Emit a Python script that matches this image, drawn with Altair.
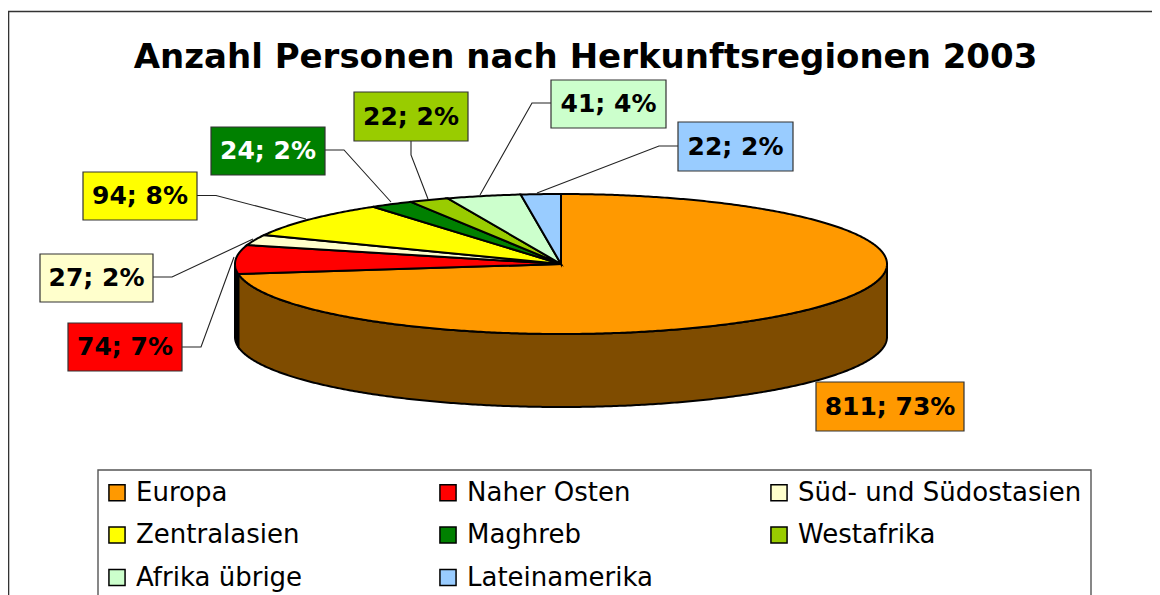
import math
import altair as alt

# ---------- data ----------
categories = ["Europa", "Naher Osten", "Süd- und Südostasien", "Zentralasien",
              "Maghreb", "Westafrika", "Afrika übrige", "Lateinamerika"]
values = [811, 74, 27, 94, 24, 22, 41, 22]
percents = [73, 7, 2, 8, 2, 2, 4, 2]
colors = ["#FF9900", "#FF0000", "#FFFFCC", "#FFFF00",
          "#008000", "#99CC00", "#CCFFCC", "#99CCFF"]
text_colors = ["black", "black", "black", "black", "white", "black", "black", "black"]
title = "Anzahl Personen nach Herkunftsregionen 2003"

# ---------- layout (page pixels, the chart starts 8px in) ----------
OFF = 8
CX, CY, RX, RY, DEPTH = 561, 264, 326, 70, 73
boxes = {  # x0, x1, y0, y1
    "Europa": (816, 964, 382, 431),
    "Naher Osten": (68, 182, 323, 371),
    "Süd- und Südostasien": (40, 153, 254, 302),
    "Zentralasien": (83, 197, 172, 220),
    "Maghreb": (211, 325, 127, 175),
    "Westafrika": (354, 468, 92, 141),
    "Afrika übrige": (551, 666, 80, 128),
    "Lateinamerika": (678, 793, 122, 171),
}
leaders = {
    "Naher Osten": [(182, 347), (201, 347), (234, 257)],
    "Süd- und Südostasien": [(153, 277), (172, 277), (253, 239)],
    "Zentralasien": [(197, 195.5), (216, 195.5), (306, 219)],
    "Maghreb": [(325, 150), (344, 150), (391, 202)],
    "Westafrika": [(411, 141), (411, 155), (428, 199)],
    "Afrika übrige": [(551, 103), (532, 103), (480, 195)],
    "Lateinamerika": [(678, 146), (659, 146), (537, 193)],
}


def pt(deg, dy=0.0):
    a = math.radians(deg)
    return [CX + RX * math.sin(a) - OFF, CY - RY * math.cos(a) + dy - OFF]


def arc(a0, a1, dy=0.0):
    n = max(2, int(abs(a1 - a0) * 2))
    return [pt(a0 + (a1 - a0) * i / n, dy) for i in range(n + 1)]


total = sum(values)
top_features, start = [], 0.0
edges = {}
for cat, v in zip(categories, values):
    end = start + 360.0 * v / total
    edges[cat] = (start, end)
    ring = [[CX - OFF, CY - OFF]] + arc(start, end) + [[CX - OFF, CY - OFF]]
    top_features.append({"type": "Feature", "properties": {"cat": cat},
                         "geometry": {"type": "Polygon", "coordinates": [ring]}})
    start = end


def side(a0, a1, tone):
    ring = arc(a0, a1) + arc(a1, a0, DEPTH)
    ring.append(ring[0])
    return {"type": "Feature", "properties": {"tone": tone},
            "geometry": {"type": "Polygon", "coordinates": [ring]}}


side_features = [side(90, edges["Europa"][1], "#7F4C00"),
                 side(edges["Naher Osten"][0], 270, "#000000")]

proj = dict(type="identity", scale=1, translate=[0, 0])

sides = alt.Chart(alt.InlineData(values={"type": "FeatureCollection", "features": side_features},
                                 format=alt.DataFormat(type="json", property="features"))
                  ).mark_geoshape(stroke="black", strokeWidth=2).encode(
    fill=alt.Fill("properties.tone:N", scale=None)).project(**proj)

top = alt.Chart(alt.InlineData(values={"type": "FeatureCollection", "features": top_features},
                               format=alt.DataFormat(type="json", property="features"))
                ).mark_geoshape(stroke="black", strokeWidth=2).encode(
    color=alt.Color("properties.cat:N",
                    scale=alt.Scale(domain=categories, range=colors),
                    sort=categories,
                    legend=alt.Legend(
                        title=None, orient="none", legendX=96, legendY=472,
                        direction="horizontal", columns=3, gridAlign="all",
                        columnPadding=15, rowPadding=15.5,
                        symbolType="square", symbolSize=260, symbolStrokeColor="black",
                        symbolStrokeWidth=1.5, symbolOpacity=1,
                        labelFont="DejaVu Sans", labelFontSize=26, labelColor="black",
                        labelOffset=6, labelLimit=400, clipHeight=25, padding=0))
).project(**proj)

frame_rows = [{"x": 0, "x2": 1144, "y": 3.5, "y2": 3.5},
              {"x": 0.5, "x2": 0.5, "y": 3.5, "y2": 587}]
frame = alt.Chart(alt.Data(values=frame_rows)).mark_rule(color="#333333", strokeWidth=1.6).encode(
    x=alt.X("x:Q", scale=None), x2="x2:Q", y=alt.Y("y:Q", scale=None), y2="y2:Q")

legend_box = alt.Chart(alt.Data(values=[{"x": 98 - OFF, "x2": 1091 - OFF, "y": 470 - OFF, "y2": 640}])
                       ).mark_rect(fill="white", stroke="#555555", strokeWidth=1.4).encode(
    x=alt.X("x:Q", scale=None), x2="x2:Q", y=alt.Y("y:Q", scale=None), y2="y2:Q")

box_rows = []
for cat, v, p, c, tc in zip(categories, values, percents, colors, text_colors):
    x0, x1, y0, y1 = boxes[cat]
    box_rows.append({"x": x0 - OFF, "x2": x1 - OFF, "y": y0 - OFF, "y2": y1 - OFF,
                     "cx": (x0 + x1) / 2 - OFF, "cy": (y0 + y1) / 2 - OFF,
                     "label": f"{v}; {p}%", "fill": c, "tc": tc})

line_rows = []
for cat, pts in leaders.items():
    for i, (x, y) in enumerate(pts):
        line_rows.append({"cat": cat, "i": i, "x": x - OFF, "y": y - OFF})

lines = alt.Chart(alt.Data(values=line_rows)).mark_line(color="#222222", strokeWidth=1.1).encode(
    x=alt.X("x:Q", scale=None), y=alt.Y("y:Q", scale=None), detail="cat:N", order="i:Q")

rects = alt.Chart(alt.Data(values=box_rows)).mark_rect(stroke="#333333", strokeWidth=1.2).encode(
    x=alt.X("x:Q", scale=None), x2="x2:Q", y=alt.Y("y:Q", scale=None), y2="y2:Q",
    fill=alt.Fill("fill:N", scale=None))

labels = alt.Chart(alt.Data(values=box_rows)).mark_text(
    font="DejaVu Sans", fontWeight="bold", fontSize=25, baseline="middle", align="center"
).encode(x=alt.X("cx:Q", scale=None), y=alt.Y("cy:Q", scale=None),
         text="label:N", color=alt.Color("tc:N", scale=None))

title_row = [{"x": 585.5 - OFF, "y": 58 - OFF, "t": title}]
title_mark = alt.Chart(alt.Data(values=title_row)).mark_text(
    font="DejaVu Sans", fontWeight="bold", fontSize=34, baseline="middle", align="center",
    color="black").encode(x=alt.X("x:Q", scale=None), y=alt.Y("y:Q", scale=None), text="t:N")

chart = alt.layer(
    frame, legend_box, title_mark, lines, sides, top, rects, labels
).resolve_scale(color="independent", fill="independent").properties(
    width=1144, height=587, padding=0, background="white",
    autosize=alt.AutoSizeParams(type="none")
).configure_view(stroke=None)

chart.save("out.html", embed_options={"renderer": "svg", "actions": False})
